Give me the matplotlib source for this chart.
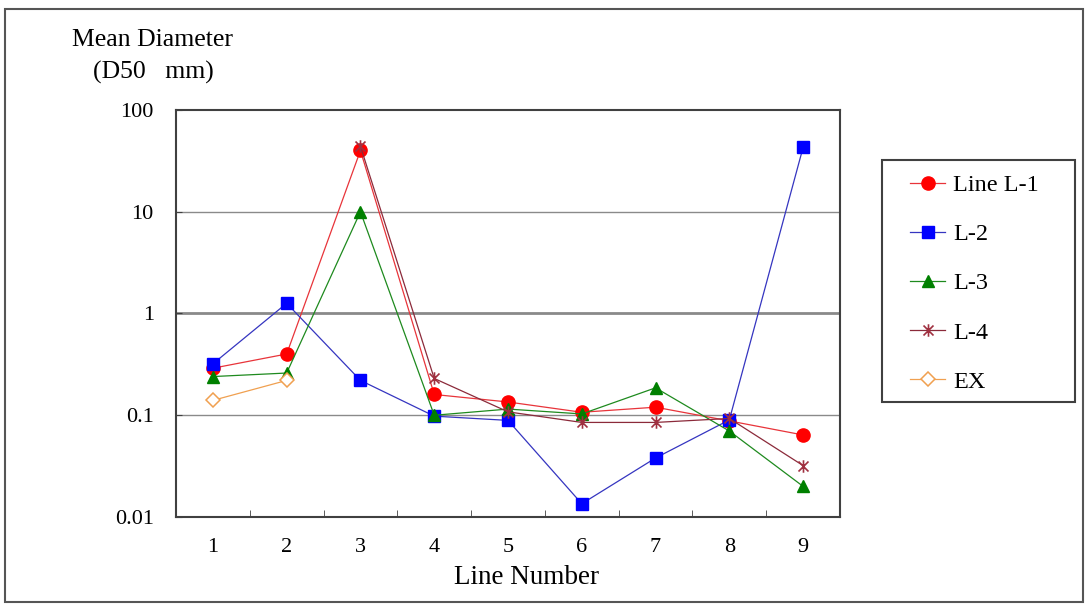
import numpy as np
import matplotlib
matplotlib.use("Agg")
import matplotlib.pyplot as plt
from matplotlib.patches import Rectangle
from matplotlib.path import Path
from matplotlib.ticker import FixedLocator, FixedFormatter, NullLocator

plt.rcParams['font.family'] = ['Liberation Serif', 'DejaVu Serif']

line_numbers = [1, 2, 3, 4, 5, 6, 7, 8, 9]
y_ticks = [0.01, 0.1, 1, 10, 100]
y_tick_labels = ["0.01", "0.1", "1", "10", "100"]

nan = np.nan
l1 = [0.29, 0.40, 40, 0.16, 0.135, 0.107, 0.12, 0.088, 0.064]
l2 = [0.32, 1.26, 0.22, 0.098, 0.089, 0.0135, 0.038, 0.09, 43]
l3 = [0.24, 0.26, 10, 0.10, 0.115, 0.103, 0.186, 0.07, 0.020]
l4 = [nan, nan, 44, 0.23, 0.108, 0.085, 0.085, 0.093, 0.032]
ex = [0.14, 0.22, nan, nan, nan, nan, nan, nan, nan]

# excel-style star: an x with a vertical bar through it
star = Path([(-1, -1), (1, 1), (-1, 1), (1, -1), (0, -1.25), (0, 1.25)],
            [Path.MOVETO, Path.LINETO, Path.MOVETO, Path.LINETO, Path.MOVETO, Path.LINETO])

series = [
    ("Line L-1", l1, dict(color="#E8343A", marker="o", mfc="#FF0000", mec="#FF0000", ms=9.5)),
    ("L-2", l2, dict(color="#3535C0", marker="s", mfc="#0000FF", mec="#0000FF", ms=9)),
    ("L-3", l3, dict(color="#1E8A1E", marker="^", mfc="#008000", mec="#008000", ms=9)),
    ("L-4", l4, dict(color="#8B2A3A", marker=star, mfc="none", mec="#A03040", ms=9, mew=1.2)),
    ("EX", ex, dict(color="#F0A050", marker="D", mfc="white", mec="#F0A050", ms=7, mew=1.1)),
]

W, H = 1091, 604
fig = plt.figure(figsize=(W / 100, H / 100), dpi=100)

# outer chart border
fig.patches.append(Rectangle((5 / W, 0.004), (1083 - 5) / W, 1 - 9 / H - 0.004,
                             transform=fig.transFigure, fill=False,
                             edgecolor="#555555", lw=1.5))
# legend box
fig.patches.append(Rectangle((882 / W, 1 - 402 / H), (1075 - 882) / W, (402 - 160) / H,
                             transform=fig.transFigure, fill=False,
                             edgecolor="#404040", lw=1.5))

ax = fig.add_axes([176 / W, 1 - 517 / H, (840 - 176) / W, (517 - 110) / H])

for label, vals, style in series:
    ax.plot(line_numbers, vals, lw=0.9, label=label, zorder=3, **style)

ax.set_yscale("log")
ax.set_ylim(0.01, 100)
ax.set_xlim(0.5, 9.5)

for yv, lw in [(10, 1.0), (1, 2.0), (0.1, 1.0)]:
    ax.axhline(yv, color="#8a8a8a", lw=lw, zorder=1)

ax.yaxis.set_major_locator(FixedLocator(y_ticks))
ax.yaxis.set_major_formatter(FixedFormatter(y_tick_labels))
ax.yaxis.set_minor_locator(NullLocator())
ax.tick_params(axis="y", direction="in", length=4, labelsize=16, pad=16,
               color="#404040")

ax.set_xticks(line_numbers)
ax.set_xticklabels([str(n) for n in line_numbers])
ax.set_xticks(np.arange(1.5, 9.5, 1), minor=True)
ax.tick_params(axis="x", which="major", length=0, labelsize=16, pad=15)
ax.tick_params(axis="x", which="minor", direction="in", length=5, color="#404040")

for s in ax.spines.values():
    s.set_color("#404040")
    s.set_linewidth(1.5)

fig.text(152 / W, 1 - 40 / H, "Mean Diameter", ha="center", va="center", fontsize=18.5)
fig.text(153 / W, 1 - 72 / H, "(D50   mm)", ha="center", va="center", fontsize=18.5)
fig.text(526 / W, 1 - 578 / H, "Line Number", ha="center", va="center", fontsize=19.5)

leg = ax.legend(loc="upper left", bbox_to_anchor=(910 / W, 1 - 174 / H),
                bbox_transform=fig.transFigure, fontsize=17.5, frameon=False,
                labelspacing=1.12, handlelength=1.45, handletextpad=0.33,
                borderpad=0, borderaxespad=0, numpoints=1)

fig.savefig("out.png", dpi=100)
